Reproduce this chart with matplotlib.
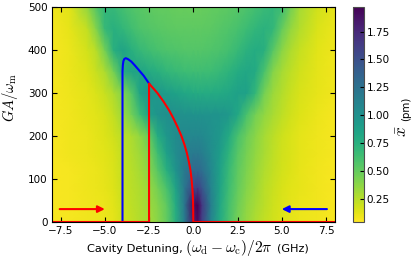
import numpy as np
import matplotlib
matplotlib.use("Agg")
import matplotlib.pyplot as plt

plt.rcParams['font.family'] = ['DejaVu Sans']
plt.rcParams['mathtext.fontset'] = 'cm'

# ---- heatmap grid (values in pm) ----
detuning = [-8, -7, -6, -5.5, -5, -4.5, -4, -3.5, -3, -2.5, -2, -1.5, -1, -0.5, 0,
            0.25, 0.5, 1, 1.5, 2, 2.5, 3, 3.5, 4, 4.5, 5, 5.5, 6, 7, 8]
drive = [0, 40, 80, 120, 160, 200, 250, 300, 350, 400, 450, 500]

x_row_0 = [0.06, 0.07, 0.08, 0.09, 0.10, 0.12, 0.18, 0.22, 0.26, 0.30, 0.38, 0.50, 0.75, 1.15, 1.80,
           1.90, 1.60, 1.10, 0.80, 0.60, 0.45, 0.35, 0.28, 0.22, 0.18, 0.14, 0.12, 0.10, 0.08, 0.06]
x_row_40 = [0.06, 0.07, 0.08, 0.09, 0.10, 0.13, 0.19, 0.23, 0.27, 0.32, 0.40, 0.52, 0.78, 1.20, 1.88,
            1.96, 1.65, 1.15, 0.82, 0.62, 0.47, 0.37, 0.30, 0.24, 0.19, 0.15, 0.12, 0.10, 0.08, 0.06]
x_row_80 = [0.06, 0.07, 0.09, 0.10, 0.11, 0.14, 0.20, 0.24, 0.28, 0.34, 0.45, 0.60, 0.85, 1.20, 1.55,
            1.60, 1.45, 1.10, 0.85, 0.65, 0.50, 0.40, 0.32, 0.25, 0.20, 0.16, 0.13, 0.11, 0.08, 0.06]
x_row_120 = [0.06, 0.07, 0.09, 0.10, 0.12, 0.15, 0.21, 0.25, 0.30, 0.38, 0.55, 0.75, 0.97, 1.18, 1.32,
             1.32, 1.27, 1.07, 0.87, 0.67, 0.52, 0.42, 0.34, 0.27, 0.22, 0.17, 0.14, 0.11, 0.08, 0.06]
x_row_160 = [0.06, 0.08, 0.10, 0.11, 0.13, 0.16, 0.22, 0.26, 0.32, 0.42, 0.65, 0.88, 1.03, 1.13, 1.18,
             1.18, 1.15, 1.03, 0.90, 0.72, 0.55, 0.44, 0.36, 0.29, 0.23, 0.18, 0.15, 0.12, 0.09, 0.07]
x_row_200 = [0.06, 0.08, 0.10, 0.12, 0.14, 0.18, 0.24, 0.28, 0.36, 0.50, 0.78, 0.95, 1.04, 1.08, 1.08,
             1.08, 1.06, 1.01, 0.94, 0.80, 0.60, 0.47, 0.38, 0.30, 0.24, 0.19, 0.15, 0.12, 0.09, 0.07]
x_row_250 = [0.07, 0.08, 0.11, 0.13, 0.16, 0.22, 0.32, 0.45, 0.65, 0.88, 0.98, 1.02, 1.02, 1.00, 0.99,
             0.99, 0.99, 0.98, 0.97, 0.94, 0.82, 0.60, 0.45, 0.36, 0.29, 0.23, 0.18, 0.14, 0.10, 0.07]
x_row_300 = [0.07, 0.09, 0.12, 0.15, 0.20, 0.28, 0.40, 0.55, 0.85, 0.97, 0.94, 0.90, 0.86, 0.82, 0.80,
             0.79, 0.79, 0.79, 0.80, 0.82, 0.87, 0.87, 0.70, 0.45, 0.33, 0.26, 0.20, 0.16, 0.11, 0.08]
x_row_350 = [0.07, 0.10, 0.14, 0.20, 0.28, 0.45, 0.75, 0.85, 0.85, 0.80, 0.75, 0.70, 0.67, 0.65, 0.64,
             0.64, 0.64, 0.65, 0.68, 0.72, 0.78, 0.82, 0.80, 0.60, 0.40, 0.30, 0.23, 0.18, 0.12, 0.08]
x_row_400 = [0.07, 0.10, 0.17, 0.25, 0.45, 0.75, 0.85, 0.75, 0.68, 0.63, 0.60, 0.58, 0.57, 0.56, 0.56,
             0.56, 0.56, 0.57, 0.59, 0.62, 0.67, 0.74, 0.78, 0.75, 0.55, 0.38, 0.28, 0.21, 0.13, 0.09]
x_row_450 = [0.07, 0.11, 0.22, 0.40, 0.68, 0.75, 0.70, 0.63, 0.58, 0.56, 0.54, 0.53, 0.52, 0.52, 0.52,
             0.52, 0.52, 0.53, 0.55, 0.57, 0.60, 0.65, 0.70, 0.74, 0.70, 0.50, 0.35, 0.26, 0.15, 0.10]
x_row_500 = [0.08, 0.13, 0.35, 0.55, 0.70, 0.68, 0.62, 0.57, 0.54, 0.52, 0.50, 0.50, 0.49, 0.49, 0.49,
             0.49, 0.49, 0.50, 0.51, 0.53, 0.55, 0.58, 0.62, 0.66, 0.70, 0.65, 0.45, 0.30, 0.18, 0.11]

xbar = np.array([x_row_0, x_row_40, x_row_80, x_row_120, x_row_160, x_row_200,
                 x_row_250, x_row_300, x_row_350, x_row_400, x_row_450, x_row_500])

# ---- hysteresis sweep curves ----
blue_x = [-4.0, -4.0, -3.98, -3.95, -3.9, -3.82, -3.7, -3.5, -3.3, -3.07, -2.8, -2.5]
blue_y = [0, 350, 365, 374, 379, 381, 379, 373, 364, 353, 340, 322]
red_x = [-8.0, -2.5, -2.5, -2.03, -1.68, -1.37, -1.11, -0.88, -0.67, -0.50, -0.36, -0.25,
         -0.16, -0.10, -0.055, -0.025, -0.01, 0.0, 8.0]
red_y = [0, 0, 322, 300, 280, 260, 240, 220, 200, 180, 160, 140,
         120, 100, 80, 60, 40, 0, 0]

xticks = [-7.5, -5.0, -2.5, 0.0, 2.5, 5.0, 7.5]
xticklabels = ['\u22127.5', '\u22125.0', '\u22122.5', '0.0', '2.5', '5.0', '7.5']
yticks = [0, 100, 200, 300, 400, 500]
cbar_ticks = [0.25, 0.50, 0.75, 1.00, 1.25, 1.50, 1.75]

W, H = 415, 257
AX_L, AX_R, AX_T, AX_B = 51.7, 334.9, 7.0, 222.0
fig = plt.figure(figsize=(W / 100, H / 100), dpi=100)
ax = fig.add_axes([AX_L / W, 1 - AX_B / H, (AX_R - AX_L) / W, (AX_B - AX_T) / H])
cax = fig.add_axes([352.7 / W, 1 - AX_B / H, (364 - 352.7) / W, (AX_B - AX_T) / H])

mesh = ax.pcolormesh(detuning, drive, xbar, shading='gouraud', cmap='viridis_r',
                     vmin=0.04, vmax=1.97, rasterized=True)

ax.plot(blue_x, blue_y, color='blue', lw=1.5)
ax.plot(red_x, red_y, color='red', lw=1.5)

ax.annotate('', xy=(-5.0, 30), xytext=(-7.55, 30),
            arrowprops=dict(arrowstyle='-|>', color='red', lw=1.5, mutation_scale=10,
                            shrinkA=0, shrinkB=0))
ax.annotate('', xy=(5.0, 30), xytext=(7.55, 30),
            arrowprops=dict(arrowstyle='-|>', color='blue', lw=1.5, mutation_scale=10,
                            shrinkA=0, shrinkB=0))

ax.set_xlim(-8, 8)
ax.set_ylim(0, 500)
ax.set_xticks(xticks)
ax.set_yticks(yticks)
ax.set_xticklabels(xticklabels)
ax.tick_params(direction='in', top=True, right=True, length=3.5, width=0.8,
               labelsize=7.5, pad=3)

cb = fig.colorbar(mesh, cax=cax, ticks=cbar_ticks)
cb.ax.tick_params(direction='in', length=3, width=0.8, labelsize=7.5, pad=2)
cb.outline.set_edgecolor('0.3')

# ---- labels (sized to the reference extents, in output pixels) ----
ty = (H - 251.5) / H
t_cav = fig.text(86.7 / W, ty, 'Cavity Detuning,', fontsize=8, ha='left', va='baseline')
t_math = fig.text(185.0 / W, ty, r'$(\omega_\mathrm{d}-\omega_\mathrm{c})/2\pi$', fontsize=10,
                  ha='left', va='baseline')
t_ghz = fig.text(277.3 / W, ty, '(GHz)', fontsize=8, ha='left', va='baseline')

# y label: right edge (text bottom) near x = 20 px, centred at y = 97.5 px
ax.set_ylabel(r'$GA/\omega_\mathrm{m}$', fontsize=10.5)
ax.yaxis.set_label_coords((20.0 - AX_L) / (AX_R - AX_L), (AX_B - 97.5) / (AX_B - AX_T))

bx = 408.5 / W
t_xb = fig.text(bx, (H - 137) / H, r'$\bar{x}$', fontsize=10, rotation=90,
                rotation_mode='anchor', ha='left', va='baseline')
t_pm = fig.text(bx, (H - 121) / H, '(pm)', fontsize=7.5, rotation=90,
                rotation_mode='anchor', ha='left', va='baseline')

fig.canvas.draw()
r = fig.canvas.get_renderer()


def fit_h(t, x0, x1):
    for _ in range(3):
        bb = t.get_window_extent(r)
        t.set_fontsize(t.get_fontsize() * (x1 - x0) / bb.width)
    bb = t.get_window_extent(r)
    px, py = t.get_position()
    t.set_position((px + (x0 - bb.x0) / W, py))


def fit_v(t, top, bottom, right):
    # top/bottom in image pixels from the top edge
    for _ in range(3):
        bb = t.get_window_extent(r)
        t.set_fontsize(t.get_fontsize() * (bottom - top) / bb.height)
    bb = t.get_window_extent(r)
    px, py = t.get_position()
    t.set_position((px + (right - bb.x1) / W, py + ((H - bottom) - bb.y0) / H))


fit_h(t_cav, 86.7, 181.7)
fit_h(t_math, 185.0, 272.7)
fit_h(t_ghz, 277.3, 309.3)
fit_v(t_pm, 96.7, 120.7, 410.7)
fit_v(t_xb, 125.0, 136.7, 410.7)

fig.savefig('out.png', dpi=100)
